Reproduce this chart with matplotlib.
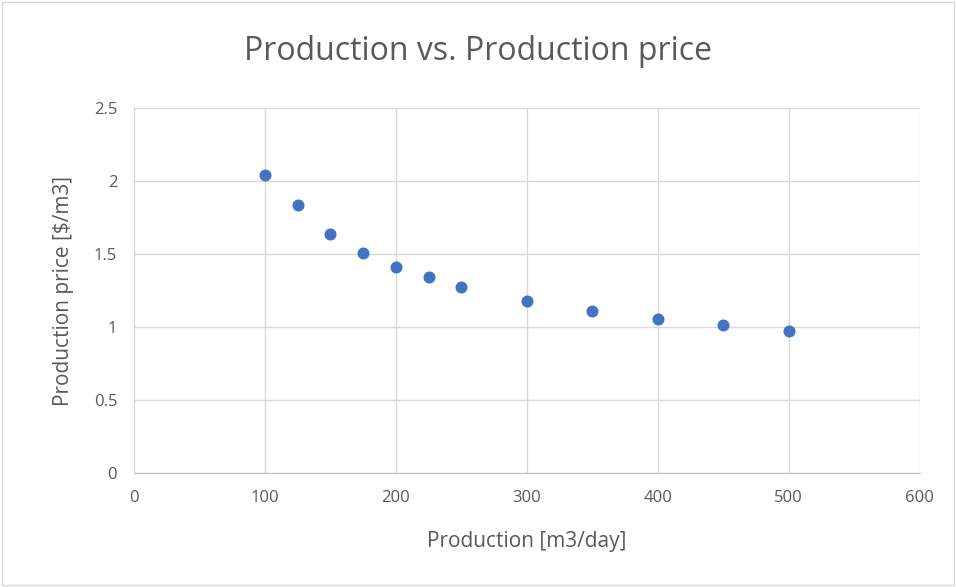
import numpy as np
import matplotlib.pyplot as plt

# production [m3/day] and price [$/m3]
production = [100, 125, 150, 175, 200, 225, 250, 300, 350, 400, 450, 500]
price = [2.04, 1.835, 1.64, 1.505, 1.41, 1.34, 1.275, 1.18, 1.11, 1.055, 1.015, 0.975]

xticks = [0, 100, 200, 300, 400, 500, 600]
yticks = [0, 0.5, 1, 1.5, 2, 2.5]
yticklabels = ['0', '0.5', '1', '1.5', '2', '2.5']

plt.rcParams['font.family'] = ['Open Sans', 'DejaVu Sans']
textcolor = '#595959'

fig = plt.figure(figsize=(9.56, 5.87), dpi=100)
ax = fig.add_axes([0.140, 0.194, 0.822, 0.622])

ax.scatter(production, price, s=75, color='#4472C4', zorder=3, linewidths=0)

ax.set_xlim(0, 600)
ax.set_ylim(0, 2.5)
ax.set_xticks(xticks)
ax.set_yticks(yticks)
ax.set_yticklabels(yticklabels)
ax.grid(True, color='#D9D9D9', linewidth=1)
ax.set_axisbelow(True)

for side in ['top', 'right', 'left']:
    ax.spines[side].set_visible(False)
ax.spines['bottom'].set_color('#BFBFBF')
ax.tick_params(length=0, labelsize=12, colors=textcolor, pad=12)

ax.set_xlabel('Production [m3/day]', fontsize=15, color=textcolor, labelpad=18)
ax.set_ylabel('Production price [$/m3]', fontsize=15, color=textcolor, labelpad=14)
fig.suptitle('Production vs. Production price', fontsize=23, color=textcolor, y=0.94)

# chart border like the spreadsheet frame
fig.patches.append(plt.Rectangle((0.002, 0.003), 0.996, 0.994, transform=fig.transFigure,
                                 fill=False, edgecolor='#D9D9D9', linewidth=1))

fig.savefig('out.png', dpi=100)
